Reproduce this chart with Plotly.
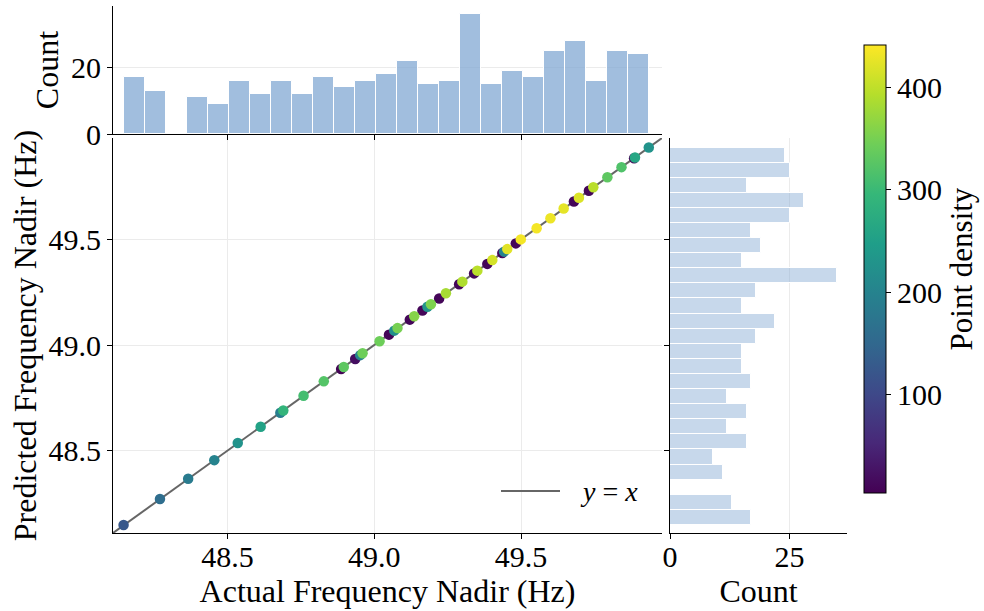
import numpy as np
import plotly.graph_objects as go

# ---- data ----
actual = [48.146, 48.270, 48.366, 48.455, 48.535, 48.613, 48.680, 48.690, 48.759, 48.828,
          48.887, 48.896, 48.935, 48.952, 48.960, 49.018, 49.050, 49.068, 49.079, 49.121,
          49.136, 49.164, 49.181, 49.193, 49.221, 49.244, 49.289, 49.300, 49.340, 49.351,
          49.385, 49.402, 49.436, 49.442, 49.453, 49.482, 49.499, 49.553, 49.600, 49.645,
          49.680, 49.697, 49.731, 49.746, 49.794, 49.842, 49.885, 49.888, 49.935]
predicted = [48.148, 48.271, 48.367, 48.455, 48.536, 48.613, 48.679, 48.690, 48.760, 48.828,
             48.886, 48.896, 48.934, 48.952, 48.961, 49.018, 49.049, 49.068, 49.080, 49.120,
             49.136, 49.163, 49.181, 49.193, 49.220, 49.245, 49.288, 49.300, 49.339, 49.352,
             49.384, 49.402, 49.435, 49.442, 49.454, 49.481, 49.500, 49.553, 49.600, 49.646,
             49.679, 49.697, 49.730, 49.747, 49.794, 49.842, 49.884, 49.888, 49.935]
density = [125, 160, 185, 200, 228, 255, 190, 290, 308, 322,
           5, 330, 20, 200, 343, 343, 10, 220, 350, 10,
           360, 10, 230, 355, 10, 383, 10, 388, 10, 396,
           10, 413, 10, 200, 422, 10, 435, 435, 430, 425,
           10, 418, 10, 395, 330, 318, 10, 262, 228]

top_counts = [17, 13, 0, 11, 9, 16, 12, 16, 12, 17, 14, 16, 18, 22, 15, 16, 36, 15, 19, 17, 25, 28, 16, 25, 24]
right_counts = [17, 13, 0, 11, 9, 16, 12, 16, 12, 17, 15, 15, 18, 22, 15, 18, 35, 15, 19, 17, 25, 28, 16, 25, 24]

main_ticks = [48.5, 49.0, 49.5]
main_ticktext = ["48.5", "49.0", "49.5"]
top_ticks = [0, 20]
right_ticks = [0, 25]
cbar_ticks = [100, 200, 300, 400]

# ---- derived ----
act = np.array(actual)
pred = np.array(predicted)
dens = np.array(density)
order = np.argsort(dens, kind="stable")

xedges = np.linspace(act.min(), act.max(), len(top_counts) + 1)
xcent = (xedges[:-1] + xedges[1:]) / 2
yedges = np.linspace(pred.min(), pred.max(), len(right_counts) + 1)
ycent = (yedges[:-1] + yedges[1:]) / 2

RANGE = [48.11, 49.98]
W, H = 984, 611
FONT = "Liberation Serif"
FS = 30      # tick labels
FT = 32      # axis titles
BLACK = "black"
GRID = "#ebebeb"


def px(x):
    return x / W


def py(y):
    return 1 - y / H


fig = go.Figure()

# top histogram
fig.add_trace(go.Bar(x=xcent, y=top_counts, width=np.diff(xedges),
                     marker=dict(color="rgba(130,168,211,0.75)", line=dict(color="white", width=1)),
                     xaxis="x2", yaxis="y2", showlegend=False, hoverinfo="skip"))
# right histogram
fig.add_trace(go.Bar(y=ycent, x=right_counts, width=np.diff(yedges), orientation="h",
                     marker=dict(color="rgba(130,168,211,0.45)", line=dict(color="white", width=1)),
                     xaxis="x3", yaxis="y3", showlegend=False, hoverinfo="skip"))

# y = x line
fig.add_trace(go.Scatter(x=RANGE, y=RANGE, mode="lines",
                         line=dict(color="#666666", width=2), showlegend=False,
                         xaxis="x", yaxis="y"))

# scatter
fig.add_trace(go.Scatter(
    x=act[order], y=pred[order], mode="markers", showlegend=False,
    marker=dict(size=10.5, color=dens[order], colorscale="Viridis", cmin=4, cmax=441,
                line=dict(width=0),
                colorbar=dict(x=px(864), xanchor="left", xpad=0, ypad=0,
                              y=py((45 + 493) / 2), yanchor="middle",
                              lenmode="pixels", len=448, thickness=22,
                              outlinewidth=1, outlinecolor=BLACK,
                              tickvals=cbar_ticks, ticks="outside", ticklen=5,
                              tickcolor=BLACK,
                              tickfont=dict(family=FONT, size=FS, color=BLACK),
                              title=dict(text="Point density", side="right",
                                         font=dict(family=FONT, size=FT - 1, color=BLACK)))),
    xaxis="x", yaxis="y"))

axis_common = dict(showline=True, linecolor=BLACK, linewidth=1, ticks="outside",
                   ticklen=5, tickcolor=BLACK, zeroline=False, automargin=False,
                   tickfont=dict(family=FONT, size=FS, color=BLACK))

fig.update_layout(
    width=W, height=H, margin=dict(l=0, r=0, t=0, b=0, pad=0, autoexpand=False),
    paper_bgcolor="white", plot_bgcolor="white",
    font=dict(family=FONT, size=FS, color=BLACK),
    bargap=0,
    xaxis=dict(domain=[px(113), px(662)], range=RANGE, tickvals=main_ticks, ticktext=main_ticktext,
               showgrid=True, gridcolor=GRID, anchor="y", ticklabelstandoff=-8,
               title=dict(text="Actual Frequency Nadir (Hz)", standoff=4,
                          font=dict(family=FONT, size=FT, color=BLACK)),
               **axis_common),
    yaxis=dict(domain=[py(533), py(138)], range=RANGE, tickvals=main_ticks, ticktext=main_ticktext,
               showgrid=True, gridcolor=GRID, anchor="x",
               title=dict(text="Predicted Frequency Nadir (Hz)", standoff=2,
                          font=dict(family=FONT, size=FT, color=BLACK)),
               **axis_common),
    xaxis2=dict(domain=[px(113), px(662)], range=RANGE, tickvals=main_ticks, showticklabels=False,
                showgrid=False, anchor="y2", **axis_common),
    yaxis2=dict(domain=[py(134), py(6)], range=[0, 38.5], tickvals=top_ticks,
                showgrid=True, gridcolor=GRID, anchor="x2",
                title=dict(text="Count", standoff=2,
                           font=dict(family=FONT, size=FT, color=BLACK)),
                **axis_common),
    xaxis3=dict(domain=[px(670), px(847)], range=[0, 37], tickvals=right_ticks,
                showgrid=True, gridcolor=GRID, anchor="y3", ticklabelstandoff=-8,
                title=dict(text="Count", standoff=4,
                           font=dict(family=FONT, size=FT, color=BLACK)),
                **axis_common),
    yaxis3=dict(domain=[py(533), py(138)], range=RANGE, tickvals=main_ticks, showticklabels=False,
                showgrid=False, anchor="x3", **axis_common),
)

# legend drawn manually (sample line + label)
fig.add_shape(type="line", xref="paper", yref="paper", x0=px(501), x1=px(560),
              y0=py(491), y1=py(491), line=dict(color="#666666", width=2))
fig.add_annotation(xref="paper", yref="paper", x=px(578), y=py(491), xanchor="left",
                   yanchor="middle", showarrow=False, text="<i>y</i> = <i>x</i>",
                   font=dict(family=FONT, size=28, color=BLACK))

fig.write_html("out.html")
